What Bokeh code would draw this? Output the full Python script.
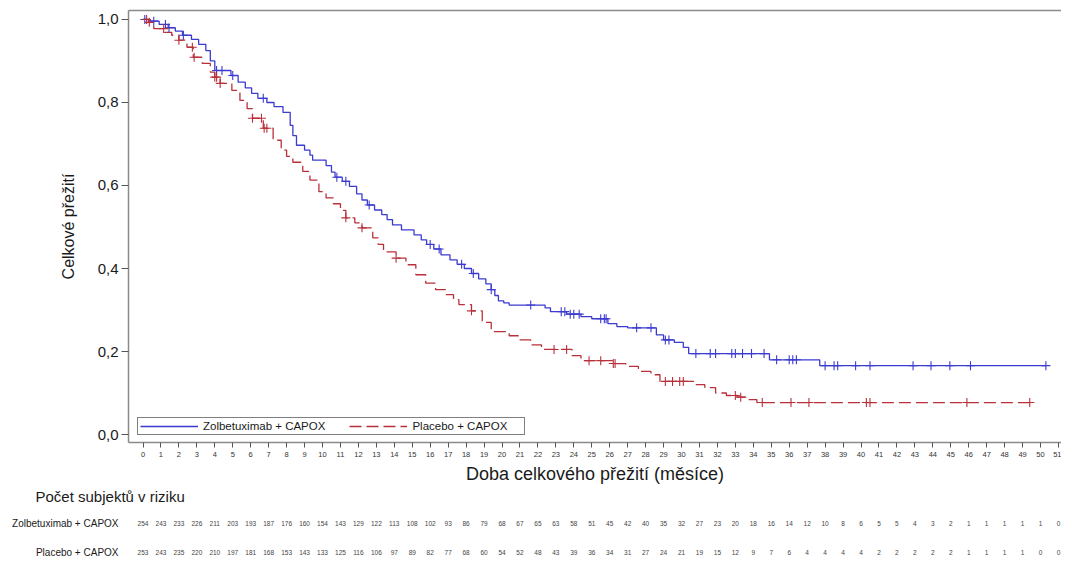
import numpy as np
from bokeh.plotting import figure
from bokeh.models import (Range1d, FixedTicker, LinearAxis, Legend, LegendItem,
                          CustomJSTickFormatter, Title)
from bokeh.layouts import column
from bokeh.core.properties import value
from bokeh.embed import file_html
from bokeh.resources import INLINE

FONT = "Liberation Sans"

# ---------------- data ----------------
months = list(range(0, 52))
groups = ["Zolbetuximab + CAPOX", "Placebo + CAPOX"]
risk_header = "Počet subjektů v riziku"
x_label = "Doba celkového přežití (měsíce)"
y_label = "Celkové přežití"
y_ticks = [0.0, 0.2, 0.4, 0.6, 0.8, 1.0]

zolbe_risk = [254, 243, 233, 226, 211, 203, 193, 187, 176, 160, 154, 143, 129, 122, 113, 108,
              102, 93, 86, 79, 68, 67, 65, 63, 58, 51, 45, 42, 40, 35, 32, 27, 23, 20, 18, 16,
              14, 12, 10, 8, 6, 5, 5, 4, 3, 2, 1, 1, 1, 1, 1, 0]
placebo_risk = [253, 243, 235, 220, 210, 197, 181, 168, 153, 143, 133, 125, 116, 106, 97, 89,
                82, 77, 68, 60, 54, 52, 48, 43, 39, 36, 34, 31, 27, 24, 21, 19, 15, 12, 9, 7,
                6, 4, 4, 4, 4, 2, 2, 2, 2, 2, 1, 1, 1, 1, 0, 0]

zolbe_time = [0.0, 0.4, 0.9, 1.4, 1.8, 2.2, 2.7, 3.1, 3.5, 3.75, 4.0, 4.9, 5.3, 5.7, 6.05, 6.4,
              6.9, 7.3, 7.8, 8.2, 8.35, 8.55, 9.0, 9.3, 9.45, 10.2, 10.5, 10.7, 11.1, 11.5, 11.9,
              12.2, 12.5, 12.9, 13.3, 13.6, 13.9, 14.4, 15.1, 15.5, 15.8, 16.2, 16.6, 17.1, 17.5,
              17.9, 18.3, 18.7, 19.1, 19.4, 19.6, 19.8, 20.1, 20.4, 22.4, 22.7, 23.6, 24.4, 25.0,
              25.9, 26.4, 27.0, 28.6, 29.0, 29.6, 30.1, 30.4, 34.9, 37.7]
zolbe_surv = [1.0, 0.996, 0.988, 0.98, 0.972, 0.962, 0.952, 0.94, 0.925, 0.9, 0.877, 0.865,
              0.849, 0.835, 0.822, 0.81, 0.8, 0.79, 0.776, 0.745, 0.72, 0.697, 0.685, 0.673,
              0.661, 0.648, 0.632, 0.62, 0.61, 0.598, 0.58, 0.565, 0.553, 0.541, 0.53, 0.518,
              0.505, 0.493, 0.481, 0.469, 0.458, 0.447, 0.433, 0.421, 0.41, 0.4, 0.388, 0.375,
              0.363, 0.349, 0.335, 0.322, 0.317, 0.312, 0.305, 0.296, 0.29, 0.284, 0.279, 0.267,
              0.26, 0.257, 0.24, 0.228, 0.222, 0.21, 0.195, 0.18, 0.166]
zolbe_end = 50.3
zolbe_censor = [0.1, 0.6, 1.25, 1.45, 2.25, 4.1, 4.4, 5.0, 6.7, 10.8, 11.3, 12.6, 16.0, 16.5,
                17.75, 18.4, 19.4, 21.6, 23.3, 23.5, 23.8, 24.0, 24.3, 25.5, 25.7, 25.8, 27.5,
                28.3, 29.1, 29.3, 30.8, 31.6, 31.9, 32.8, 33.0, 33.4, 33.9, 34.6, 35.3, 36.0,
                36.2, 36.4, 38.0, 38.5, 38.7, 39.7, 40.5, 42.9, 43.9, 44.95, 46.1, 50.3]

placebo_time = [0.0, 0.3, 0.6, 1.2, 1.6, 2.0, 2.45, 2.8, 3.3, 3.75, 4.0, 4.3, 4.95, 5.4, 5.8,
                6.1, 6.7, 7.25, 7.7, 8.0, 8.35, 8.9, 9.3, 9.8, 10.2, 10.6, 11.0, 11.3, 11.8, 12.2,
                12.8, 13.1, 13.4, 14.1, 14.65, 15.2, 15.75, 16.3, 16.85, 17.3, 17.6, 18.3, 18.9,
                19.4, 20.4, 21.0, 21.6, 22.2, 23.9, 24.4, 26.2, 26.9, 27.6, 28.3, 28.8, 30.7,
                31.3, 31.9, 32.5, 33.1, 33.75, 34.2]
placebo_surv = [1.0, 0.993, 0.978, 0.969, 0.962, 0.95, 0.933, 0.909, 0.894, 0.873, 0.861, 0.846,
                0.829, 0.805, 0.785, 0.762, 0.738, 0.709, 0.685, 0.67, 0.656, 0.634, 0.613, 0.585,
                0.570, 0.556, 0.54, 0.522, 0.51, 0.498, 0.474, 0.458, 0.44, 0.425, 0.409, 0.385,
                0.365, 0.349, 0.337, 0.325, 0.313, 0.298, 0.27, 0.248, 0.238, 0.228, 0.216,
                0.205, 0.19, 0.178, 0.171, 0.164, 0.152, 0.144, 0.128, 0.12, 0.113, 0.10, 0.094,
                0.09, 0.084, 0.077]
placebo_end = 49.4
placebo_censor = [0.2, 0.35, 1.15, 2.0, 2.75, 2.85, 4.0, 4.1, 4.3, 6.1, 6.6, 6.75, 6.9, 11.3,
                  12.2, 14.1, 18.3, 22.9, 23.6, 24.85, 25.5, 26.2, 26.3, 29.1, 29.5, 29.9, 30.1,
                  33.0, 33.3, 34.5, 36.1, 37.1, 40.3, 40.5, 45.9, 49.4]

# ---------------- style ----------------
BLUE = "#3b3bd0"
RED = "#b8303a"
GRAY = "#8a8a8a"
TXT = "#1a1a1a"

W = 1061
H_MAIN = 486
H_TAB = 76
TAB_TOP = 20
PX = 17.95              # pixels per month
X0 = 142.5              # px where month 0 sits
LEFT = 128

x_range = Range1d((LEFT - X0) / PX, (W - X0) / PX)

p = figure(width=W, height=H_MAIN, x_range=x_range,
           y_range=Range1d(-0.0192, 1.0216), output_backend="svg",
           toolbar_location=None, min_border_left=LEFT, min_border_right=0,
           min_border_top=10, min_border_bottom=43)
p.xgrid.visible = False
p.ygrid.visible = False
p.outline_line_color = None
p.background_fill_color = "white"
p.border_fill_color = "white"

xa = p.xaxis[0]
xa.ticker = FixedTicker(ticks=months)
xa.axis_label = x_label
xa.axis_label_text_font = FONT
xa.axis_label_text_font_style = "normal"
xa.axis_label_text_font_size = "18px"
xa.axis_label_text_color = TXT
xa.axis_label_standoff = 4
xa.major_label_text_font = FONT
xa.major_label_text_font_size = "7.5px"
xa.major_label_text_color = "#333333"
xa.major_label_standoff = 4
xa.major_tick_out = 5
xa.major_tick_in = 0
xa.minor_tick_line_color = None
xa.axis_line_color = GRAY
xa.axis_line_width = 1.5
xa.major_tick_line_color = "#555555"

ya = p.yaxis[0]
ya.ticker = FixedTicker(ticks=y_ticks)
ya.formatter = CustomJSTickFormatter(code="return tick.toFixed(1).replace('.', ',');")
ya.axis_label = y_label
ya.axis_label_text_font = FONT
ya.axis_label_text_font_style = "normal"
ya.axis_label_text_font_size = "16px"
ya.axis_label_text_color = TXT
ya.axis_label_standoff = 18
ya.major_label_text_font = FONT
ya.major_label_text_font_size = "15px"
ya.major_label_text_color = TXT
ya.major_label_standoff = 3
ya.major_tick_out = 7
ya.major_tick_in = 0
ya.minor_tick_line_color = None
ya.axis_line_color = GRAY
ya.axis_line_width = 1.5
ya.major_tick_line_color = "#555555"

top = LinearAxis(ticker=FixedTicker(ticks=[]), axis_line_color=GRAY, axis_line_width=1.5,
                 major_tick_line_color=None, minor_tick_line_color=None,
                 major_label_text_font_size="0px")
p.add_layout(top, "above")


def surv_at(times, survs, ts):
    idx = np.searchsorted(np.array(times), np.array(ts), side="right") - 1
    return [survs[i] for i in idx]


zl = p.step(zolbe_time + [zolbe_end], zolbe_surv + [zolbe_surv[-1]], mode="after",
            line_color=BLUE, line_width=1.3)
pl = p.step(placebo_time + [placebo_end], placebo_surv + [placebo_surv[-1]], mode="after",
            line_color=RED, line_width=1.3, line_dash="12 5")
p.scatter(zolbe_censor, surv_at(zolbe_time, zolbe_surv, zolbe_censor), marker="cross",
          size=9, line_color=BLUE, line_width=1.1)
p.scatter(placebo_censor, surv_at(placebo_time, placebo_surv, placebo_censor), marker="cross",
          size=9, line_color=RED, line_width=1.1)

legend = Legend(items=[LegendItem(label=groups[0], renderers=[zl]),
                       LegendItem(label=groups[1], renderers=[pl])],
                orientation="horizontal", location=(9, 7),
                label_text_font=FONT, label_text_font_size="11.5px", label_text_color=TXT,
                glyph_width=58, glyph_height=12, label_height=12, label_width=110,
                label_standoff=5, spacing=24, padding=2, margin=0,
                border_line_color="black", border_line_width=1,
                background_fill_color="white", background_fill_alpha=1.0)
p.add_layout(legend)

# ---------------- risk table ----------------
row_y = [523, 552]       # page rows of the two series
t = figure(width=W, height=H_TAB, x_range=x_range,
           y_range=Range1d(562, 486 + TAB_TOP), output_backend="svg", toolbar_location=None,
           min_border_left=LEFT, min_border_right=0, min_border_top=TAB_TOP,
           min_border_bottom=0, x_axis_type=None, y_axis_type=None)
t.outline_line_color = None
t.grid.visible = False
t.background_fill_color = "white"
t.border_fill_color = "white"

header = Title(text=risk_header, align="left", offset=35 - LEFT, standoff=0,
               vertical_align="top",
               text_font=FONT, text_font_size="15px", text_font_style="normal",
               text_color=TXT)
t.add_layout(header, "above")

row_axis = LinearAxis(ticker=FixedTicker(ticks=row_y),
                      major_label_overrides={row_y[0]: groups[0], row_y[1]: groups[1]},
                      axis_line_color=None, major_tick_line_color=None,
                      minor_tick_line_color=None, major_tick_out=0, major_tick_in=0,
                      major_label_standoff=10, major_label_text_font=FONT,
                      major_label_text_font_size="10px", major_label_text_color=TXT)
t.add_layout(row_axis, "left")

t.text(x=months, y=[row_y[0]] * len(months), text=[str(v) for v in zolbe_risk],
       text_align="center", text_baseline="middle", text_font=value(FONT),
       text_font_size="6.5px", text_color="#444444")
t.text(x=months, y=[row_y[1]] * len(months), text=[str(v) for v in placebo_risk],
       text_align="center", text_baseline="middle", text_font=value(FONT),
       text_font_size="6.5px", text_color="#444444")

layout = column(p, t)
open("out.html", "w").write(file_html(layout, INLINE))
